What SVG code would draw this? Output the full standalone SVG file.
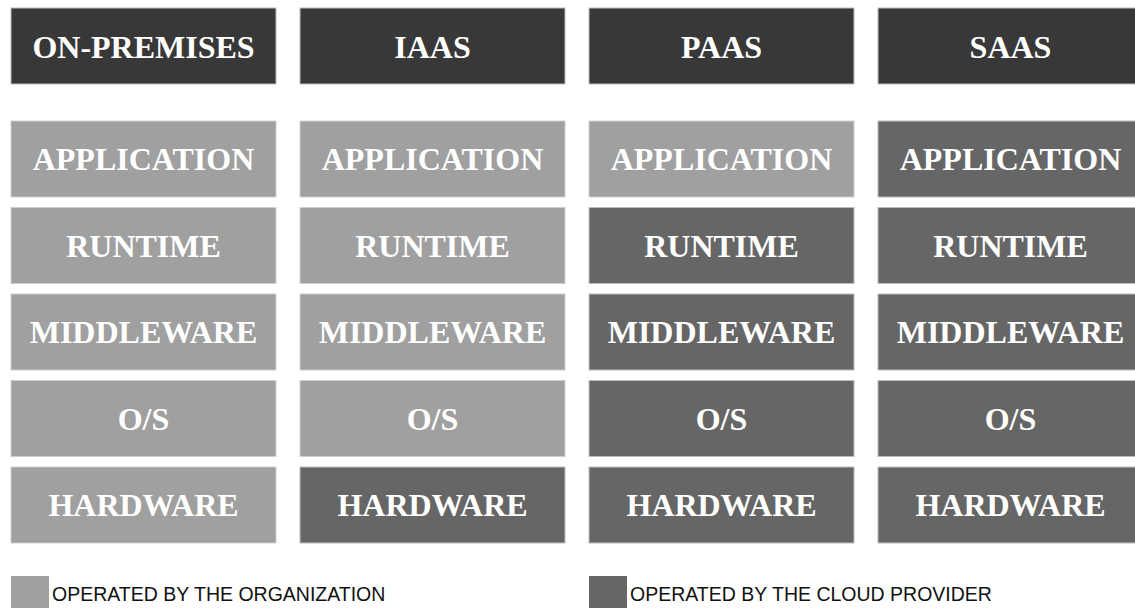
<svg xmlns="http://www.w3.org/2000/svg" width="1135" height="608" viewBox="0 0 1135 608">
<style>
rect.h{fill:#383838;stroke:#bdbdbd;stroke-width:1}
rect.o{fill:#a0a0a0;stroke:#cfcfcf;stroke-width:1}
rect.c{fill:#666666;stroke:#bdbdbd;stroke-width:1}
text.t{font-family:"Liberation Serif","Times New Roman",serif;font-weight:bold;font-size:32px;fill:#ffffff;text-anchor:middle}
text.l{font-family:"Liberation Sans",Arial,sans-serif;font-size:19.5px;fill:#111111}
</style>
<rect width="1135" height="608" fill="#ffffff"/>
<g id="col-onprem">
<g id="h1"><rect class="h" x="11" y="8" width="265" height="76"/><text class="t" x="143.5" y="57.5">ON-PREMISES</text></g>
<g id="op-app"><rect class="o" x="11" y="121" width="265" height="76"/><text class="t" x="143.5" y="170">APPLICATION</text></g>
<g id="op-rt"><rect class="o" x="11" y="207.5" width="265" height="76"/><text class="t" x="143.5" y="256.5">RUNTIME</text></g>
<g id="op-mw"><rect class="o" x="11" y="294" width="265" height="76"/><text class="t" x="143.5" y="343">MIDDLEWARE</text></g>
<g id="op-os"><rect class="o" x="11" y="380.5" width="265" height="76"/><text class="t" x="143.5" y="429.5">O/S</text></g>
<g id="op-hw"><rect class="o" x="11" y="467" width="265" height="76"/><text class="t" x="143.5" y="516">HARDWARE</text></g>
</g>
<g id="col-iaas">
<g id="h2"><rect class="h" x="300" y="8" width="265" height="76"/><text class="t" x="432.5" y="57.5">IAAS</text></g>
<g id="ia-app"><rect class="o" x="300" y="121" width="265" height="76"/><text class="t" x="432.5" y="170">APPLICATION</text></g>
<g id="ia-rt"><rect class="o" x="300" y="207.5" width="265" height="76"/><text class="t" x="432.5" y="256.5">RUNTIME</text></g>
<g id="ia-mw"><rect class="o" x="300" y="294" width="265" height="76"/><text class="t" x="432.5" y="343">MIDDLEWARE</text></g>
<g id="ia-os"><rect class="o" x="300" y="380.5" width="265" height="76"/><text class="t" x="432.5" y="429.5">O/S</text></g>
<g id="ia-hw"><rect class="c" x="300" y="467" width="265" height="76"/><text class="t" x="432.5" y="516">HARDWARE</text></g>
</g>
<g id="col-paas">
<g id="h3"><rect class="h" x="589" y="8" width="265" height="76"/><text class="t" x="721.5" y="57.5">PAAS</text></g>
<g id="pa-app"><rect class="o" x="589" y="121" width="265" height="76"/><text class="t" x="721.5" y="170">APPLICATION</text></g>
<g id="pa-rt"><rect class="c" x="589" y="207.5" width="265" height="76"/><text class="t" x="721.5" y="256.5">RUNTIME</text></g>
<g id="pa-mw"><rect class="c" x="589" y="294" width="265" height="76"/><text class="t" x="721.5" y="343">MIDDLEWARE</text></g>
<g id="pa-os"><rect class="c" x="589" y="380.5" width="265" height="76"/><text class="t" x="721.5" y="429.5">O/S</text></g>
<g id="pa-hw"><rect class="c" x="589" y="467" width="265" height="76"/><text class="t" x="721.5" y="516">HARDWARE</text></g>
</g>
<g id="col-saas">
<g id="h4"><rect class="h" x="878" y="8" width="265" height="76"/><text class="t" x="1010.5" y="57.5">SAAS</text></g>
<g id="sa-app"><rect class="c" x="878" y="121" width="265" height="76"/><text class="t" x="1010.5" y="170">APPLICATION</text></g>
<g id="sa-rt"><rect class="c" x="878" y="207.5" width="265" height="76"/><text class="t" x="1010.5" y="256.5">RUNTIME</text></g>
<g id="sa-mw"><rect class="c" x="878" y="294" width="265" height="76"/><text class="t" x="1010.5" y="343">MIDDLEWARE</text></g>
<g id="sa-os"><rect class="c" x="878" y="380.5" width="265" height="76"/><text class="t" x="1010.5" y="429.5">O/S</text></g>
<g id="sa-hw"><rect class="c" x="878" y="467" width="265" height="76"/><text class="t" x="1010.5" y="516">HARDWARE</text></g>
</g>
<g id="legend">
<g id="leg-org"><rect x="11" y="576" width="38" height="34" fill="#a0a0a0"/><text class="l" x="52" y="601">OPERATED BY THE ORGANIZATION</text></g>
<g id="leg-cloud"><rect x="589" y="576" width="38" height="34" fill="#666666"/><text class="l" x="630" y="601">OPERATED BY THE CLOUD PROVIDER</text></g>
</g>
<g id="connectors"/>
</svg>
